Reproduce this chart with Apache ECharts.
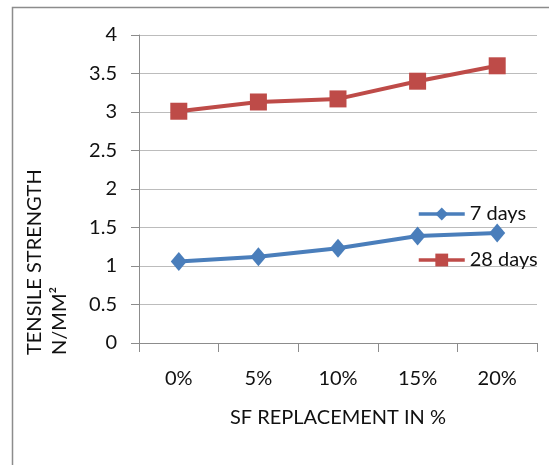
<!DOCTYPE html>
<html><head><meta charset="utf-8">
<script src="https://cdn.jsdelivr.net/npm/echarts@6/dist/echarts.min.js"></script>
<style>html,body{margin:0;padding:0;background:#fff}#c{width:549px;height:465px}</style>
</head><body><div id="c"></div>
<script>
const categories = ['0%', '5%', '10%', '15%', '20%'];
const days7 = [1.06, 1.12, 1.23, 1.39, 1.43];
const days28 = [3.01, 3.13, 3.17, 3.40, 3.60];
const yTicks = [0, 0.5, 1, 1.5, 2, 2.5, 3, 3.5, 4];
const yTitle = ['TENSILE STRENGTH', 'N/MM²'];
const FONT = 'Lato';
const TXT = '#111';
const chart = echarts.init(document.getElementById('c'));
chart.setOption({
  animation: false,
  graphic: [
    {type:'rect', shape:{x:12.5,y:7.5,width:600,height:500}, style:{fill:'none', stroke:'#8c8c8c', lineWidth:1.5}},
    {type:'text', x:35, y:355, rotation:Math.PI/2, style:{text:yTitle[0], font:'20px Lato', fill:TXT, textAlign:'left', textVerticalAlign:'middle'}},
    {type:'text', x:60, y:355, rotation:Math.PI/2, style:{text:yTitle[1], font:'20px Lato', fill:TXT, textAlign:'left', textVerticalAlign:'middle'}}
  ],
  grid: {left:139, right:12, top:35, bottom:122},
  legend: {
    orient:'vertical', left:417, top:204, padding:0, itemGap:26, itemWidth:46, itemHeight:16,
    textStyle:{fontFamily:FONT, fontSize:20, color:TXT},
    lineStyle:{width:3.5},
    data:['7 days','28 days']
  },
  xAxis: {
    type:'category', data:categories, boundaryGap:true,
    name:'SF REPLACEMENT IN %', nameLocation:'middle', nameGap:65,
    nameTextStyle:{fontFamily:FONT, fontSize:20, color:TXT},
    axisLine:{lineStyle:{color:'#8c8c8c'}},
    axisTick:{show:true, length:9, lineStyle:{color:'#8c8c8c'}},
    axisLabel:{fontFamily:FONT, fontSize:20, color:TXT, margin:26}
  },
  yAxis: {
    type:'value', min:0, max:4, interval:0.5,
    axisLine:{show:true, lineStyle:{color:'#8c8c8c'}},
    axisTick:{show:true, length:8, lineStyle:{color:'#8c8c8c'}},
    axisLabel:{fontFamily:FONT, fontSize:20, color:TXT, margin:22,
      formatter: v => yTicks.includes(v) ? String(v) : ''},
    splitLine:{lineStyle:{color:'#bcbcbc'}}
  },
  series: [
    {name:'7 days', type:'line', data:days7, symbol:'diamond', symbolSize:[16,19],
     lineStyle:{width:4, color:'#4a7ebb'}, itemStyle:{color:'#4a7ebb'}},
    {name:'28 days', type:'line', data:days28, symbol:'rect', symbolSize:17,
     lineStyle:{width:4, color:'#be4b48'}, itemStyle:{color:'#be4b48'}}
  ]
});
</script></body></html>
